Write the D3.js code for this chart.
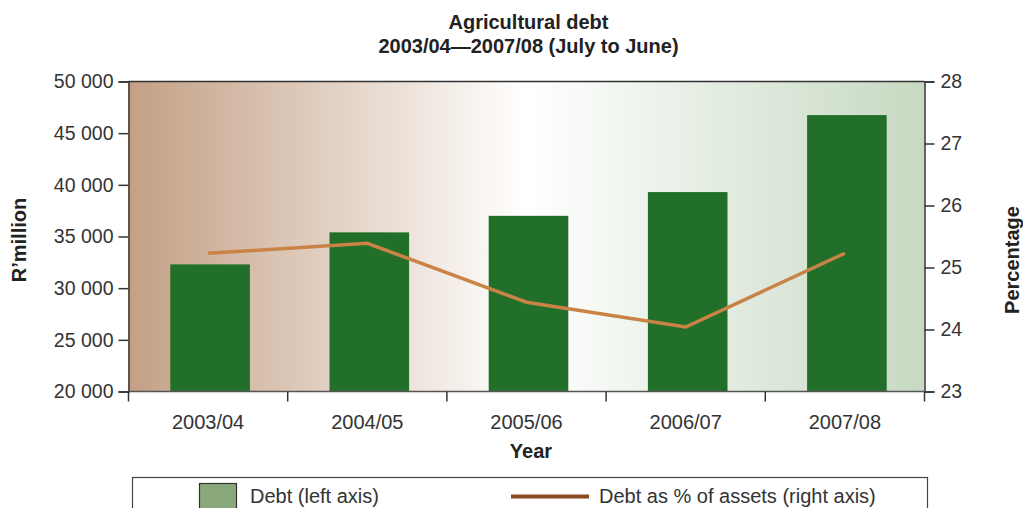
<!DOCTYPE html>
<html>
<head>
<meta charset="utf-8">
<script src="https://cdn.jsdelivr.net/npm/d3@7/dist/d3.min.js"></script>
<style>
  html, body { margin: 0; padding: 0; background: #ffffff; }
  svg { display: block; font-family: "Liberation Sans", Arial, sans-serif; }
</style>
</head>
<body>
<svg id="chart" width="1023" height="508"></svg>
<script>
// Agricultural debt, July-to-June years
const years = ["2003/04", "2004/05", "2005/06", "2006/07", "2007/08"];
const debt = [32300, 35400, 37000, 39300, 46750];          // R'million (left axis)
const debtPct = [25.23, 25.39, 24.44, 24.04, 25.23];       // % of assets (right axis)
const leftTicks = [20000, 25000, 30000, 35000, 40000, 45000, 50000];
const rightTicks = [23, 24, 25, 26, 27, 28];
const titleLines = ["Agricultural debt", "2003/04\u20142007/08 (July to June)"];
const legendLabels = ["Debt (left axis)", "Debt as % of assets (right axis)"];

const svg = d3.select("#chart");
const plot = { left: 128.5, right: 924.5, top: 81.5, bottom: 391.5 };

const x = d3.scaleBand().domain(years).range([plot.left, plot.right])
  .paddingInner(0.5).paddingOuter(0.25);
const yL = d3.scaleLinear().domain([20000, 50000]).range([plot.bottom, plot.top]);
const yR = d3.scaleLinear().domain([23, 28]).range([plot.bottom, plot.top]);

const locale = d3.formatLocale({ decimal: ".", thousands: " ", grouping: [3], currency: ["", ""] });
const fmt = locale.format(",");

// background gradient: tan to white to pale green
const defs = svg.append("defs");
const grad = defs.append("linearGradient").attr("id", "bg").attr("x1", "0").attr("x2", "1").attr("y1", "0").attr("y2", "0");
grad.append("stop").attr("offset", "0%").attr("stop-color", "#c3a085");
grad.append("stop").attr("offset", "50%").attr("stop-color", "#ffffff");
grad.append("stop").attr("offset", "100%").attr("stop-color", "#c7d9c2");

svg.append("rect")
  .attr("x", plot.left).attr("y", plot.top)
  .attr("width", plot.right - plot.left).attr("height", plot.bottom - plot.top)
  .attr("fill", "url(#bg)");

// bars
svg.append("g").selectAll("rect").data(years).join("rect")
  .attr("x", d => x(d) + 2)
  .attr("width", x.bandwidth())
  .attr("y", (d, i) => yL(debt[i]))
  .attr("height", (d, i) => yL(20000) - yL(debt[i]))
  .attr("fill", "#226f29");

// percentage line
const line = d3.line()
  .x((d, i) => x(years[i]) + x.bandwidth() / 2)
  .y(d => yR(d));
svg.append("path").datum(debtPct)
  .attr("d", line)
  .attr("fill", "none")
  .attr("stroke", "#c98346")
  .attr("stroke-width", 3.5);

// frame
svg.append("line").attr("x1", plot.left).attr("x2", plot.right).attr("y1", plot.top).attr("y2", plot.top)
  .attr("stroke", "#333").attr("stroke-width", 1.5);

// left axis
const gL = svg.append("g").attr("transform", `translate(${plot.left},0)`)
  .call(d3.axisLeft(yL).tickValues(leftTicks).tickFormat(fmt).tickSize(10).tickPadding(5));
// right axis
const gR = svg.append("g").attr("transform", `translate(${plot.right},0)`)
  .call(d3.axisRight(yR).tickValues(rightTicks).tickFormat(d3.format("d")).tickSize(10).tickPadding(6));

[gL, gR].forEach(g => {
  g.select(".domain").attr("stroke", "#333").attr("stroke-width", 1.5);
  g.selectAll(".tick line").attr("stroke", "#333").attr("stroke-width", 1.5);
  g.selectAll(".tick text").attr("fill", "#333").style("font-size", "19.5px")
    .style("font-family", "'Liberation Sans', Arial, sans-serif");
});

// bottom axis: boundary ticks with category labels centred between
const step = x.step();
const bounds = years.map(d => x(d) + x.bandwidth() / 2 - step / 2)
  .concat([x(years[years.length - 1]) + x.bandwidth() / 2 + step / 2]);
const gB = svg.append("g");
gB.append("line").attr("x1", plot.left).attr("x2", plot.right)
  .attr("y1", plot.bottom).attr("y2", plot.bottom)
  .attr("stroke", "#555").attr("stroke-width", 1.5);
gB.selectAll("line.bt").data(bounds).join("line").attr("class", "bt")
  .attr("x1", d => d).attr("x2", d => d)
  .attr("y1", plot.bottom).attr("y2", plot.bottom + 10)
  .attr("stroke", "#333").attr("stroke-width", 1.5);
gB.selectAll("text").data(years).join("text")
  .attr("x", d => x(d) + x.bandwidth() / 2)
  .attr("y", 428.5)
  .attr("text-anchor", "middle")
  .attr("fill", "#333")
  .style("font-size", "20px")
  .text(d => d);

// titles
svg.selectAll("text.title").data(titleLines).join("text").attr("class", "title")
  .attr("x", 528.5).attr("y", (d, i) => 29 + i * 24)
  .attr("text-anchor", "middle")
  .attr("fill", "#222")
  .style("font-size", "20px").style("font-weight", "bold")
  .text(d => d);

svg.append("text").attr("x", 531).attr("y", 458)
  .attr("text-anchor", "middle").attr("fill", "#222")
  .style("font-size", "20px").style("font-weight", "bold").text("Year");

svg.append("text").attr("transform", "translate(26,240) rotate(-90)")
  .attr("text-anchor", "middle").attr("fill", "#222")
  .style("font-size", "20px").style("font-weight", "bold").text("R\u2019million");

svg.append("text").attr("transform", "translate(1019,260) rotate(-90)")
  .attr("text-anchor", "middle").attr("fill", "#222")
  .style("font-size", "20px").style("font-weight", "bold").text("Percentage");

// legend
const lg = svg.append("g");
lg.append("rect").attr("x", 132.5).attr("y", 477.5).attr("width", 795).attr("height", 40)
  .attr("fill", "#ffffff").attr("stroke", "#444").attr("stroke-width", 1.2);
lg.append("rect").attr("x", 199.5).attr("y", 483.5).attr("width", 37).attr("height", 30)
  .attr("fill", "#89a97c").attr("stroke", "#333").attr("stroke-width", 1.2);
lg.append("text").attr("x", 250).attr("y", 503).attr("fill", "#333")
  .style("font-size", "20px").text(legendLabels[0]);
lg.append("line").attr("x1", 511).attr("x2", 589).attr("y1", 496.5).attr("y2", 496.5)
  .attr("stroke", "#8a4a22").attr("stroke-width", 4);
lg.append("text").attr("x", 599).attr("y", 503).attr("fill", "#333")
  .style("font-size", "20px").text(legendLabels[1]);
</script>
</body>
</html>
